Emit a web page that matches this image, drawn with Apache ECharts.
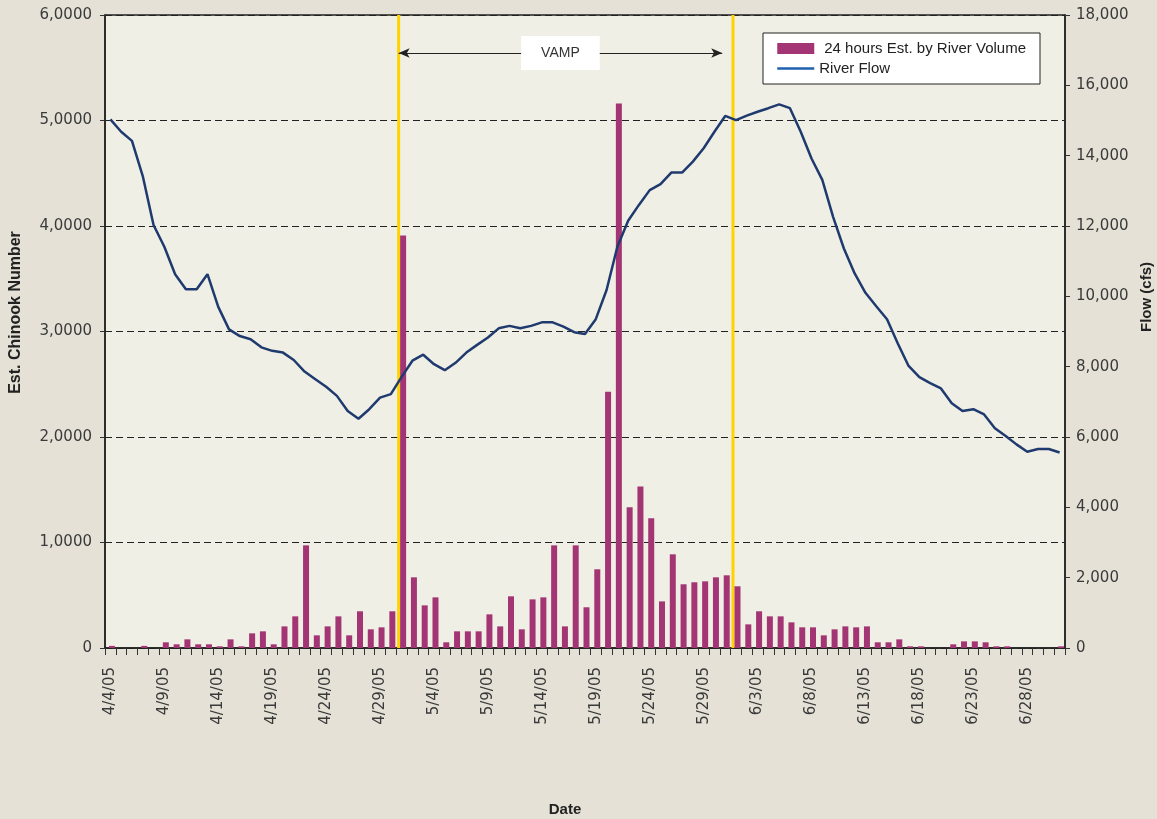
<!DOCTYPE html>
<html>
<head>
<meta charset="utf-8">
<script src="https://cdn.jsdelivr.net/npm/echarts@6/dist/echarts.min.js"></script>
<style>
html,body{margin:0;padding:0;background:#E5E1D6;}
#chart{width:1157px;height:819px;}
</style>
</head>
<body>
<div id="chart"></div>
<script>
const dates = [
 '4/4/05','4/5/05','4/6/05','4/7/05','4/8/05','4/9/05','4/10/05','4/11/05','4/12/05','4/13/05',
 '4/14/05','4/15/05','4/16/05','4/17/05','4/18/05','4/19/05','4/20/05','4/21/05','4/22/05','4/23/05',
 '4/24/05','4/25/05','4/26/05','4/27/05','4/28/05','4/29/05','4/30/05',
 '5/1/05','5/2/05','5/3/05','5/4/05','5/5/05','5/6/05','5/7/05','5/8/05','5/9/05','5/10/05',
 '5/11/05','5/12/05','5/13/05','5/14/05','5/15/05','5/16/05','5/17/05','5/18/05','5/19/05','5/20/05',
 '5/21/05','5/22/05','5/23/05','5/24/05','5/25/05','5/26/05','5/27/05','5/28/05','5/29/05','5/30/05','5/31/05',
 '6/1/05','6/2/05','6/3/05','6/4/05','6/5/05','6/6/05','6/7/05','6/8/05','6/9/05','6/10/05',
 '6/11/05','6/12/05','6/13/05','6/14/05','6/15/05','6/16/05','6/17/05','6/18/05','6/19/05','6/20/05',
 '6/21/05','6/22/05','6/23/05','6/24/05','6/25/05','6/26/05','6/27/05','6/28/05','6/29/05','6/30/05',
 '7/1/05'
];

const chinook = [
 20,0,0,20,0,54,35,82,35,35,
 16,82,16,139,158,35,205,300,973,120,
 205,300,120,348,177,196,348,
 3910,670,404,480,54,158,158,158,319,205,
 490,177,461,480,973,205,973,386,746,2430,
 5160,1334,1530,1229,442,888,604,623,632,670,689,
 585,224,348,300,300,243,196,196,120,177,
 205,196,205,54,54,82,16,16,0,0,
 35,63,63,54,16,16,0,0,0,0,
 16
];

const riverFlow = [
 15030,14680,14420,13420,12030,11410,10630,10200,10200,10630,
 9700,9060,8870,8780,8550,8450,8400,8190,7860,7640,
 7430,7170,6740,6520,6790,7120,7220,
 7710,8170,8340,8070,7900,8110,8400,8620,8830,9090,
 9160,9090,9160,9260,9260,9140,8980,8930,9350,10180,
 11410,12150,12600,13020,13190,13520,13520,13830,14210,14680,15130,
 15010,15140,15250,15350,15460,15350,14680,13920,13310,12260,
 11360,10650,10100,9720,9350,8660,8020,7700,7530,7380,
 6960,6740,6790,6640,6250,6030,5790,5580,5660,5660,
 5560
];

const vampDates = ['5/1/05','6/1/05'];
const vampArrowEnds = ['5/1/05','5/31/05'];
const vampArrowLevel = 5640;

const leftTickLabels = ['0','1,0000','2,0000','3,0000','4,0000','5,0000','6,0000'];
const rightTickLabels = ['0','2,000','4,000','6,000','8,000','10,000','12,000','14,000','16,000','18,000'];

const LEFT_MAX = 6000, RIGHT_MAX = 18000;
const vampBars = dates.map(d => vampDates.indexOf(d) >= 0 ? LEFT_MAX : null);

const FONT = 'DejaVu Sans';
const FONT2 = 'Liberation Sans, Arial, sans-serif';
const chart = echarts.init(document.getElementById('chart'), null, {renderer:'canvas'});

chart.setOption({
  animation: false,
  backgroundColor: '#E5E1D6',
  grid: {
    left: 105, right: 92, top: 15, bottom: 171,
    outerBoundsMode: 'none', containLabel: false,
    show: true, backgroundColor: '#F0EFE5', borderColor: '#222', borderWidth: 1.5
  },
  legend: {
    orient: 'vertical', left: 763, top: 33,
    backgroundColor: '#fff', borderColor: '#222', borderWidth: 1,
    padding: [8, 14, 8, 13], itemGap: 5, itemWidth: 37, itemHeight: 11,
    textStyle: {fontFamily: FONT2, fontSize: 15, color: '#222'},
    data: [
      {name: '24 hours Est. by River Volume', icon: 'rect', textStyle: {padding: [0,0,0,5]}},
      {name: 'River Flow', itemStyle: {opacity: 0}, lineStyle: {color: '#1f60ac', width: 2.5}}
    ]
  },
  xAxis: {
    type: 'category', data: dates, boundaryGap: true,
    name: 'Date', nameLocation: 'middle', nameGap: 154,
    nameTextStyle: {fontFamily: FONT2, fontSize: 15, fontWeight: 'bold', color: '#222', padding: [0, 40, 0, 0]},
    axisLine: {lineStyle: {color: '#222', width: 1.5}},
    axisTick: {show: true, interval: 0, length: 7, lineStyle: {color: '#333'}},
    axisLabel: {interval: 4, rotate: 90, margin: 19, fontFamily: FONT, fontSize: 15, color: '#3a3a3a'},
    splitLine: {show: false}
  },
  yAxis: [
    {
      type: 'value', min: 0, max: LEFT_MAX, interval: 1000,
      name: 'Est. Chinook Number', nameLocation: 'middle', nameGap: 81, nameRotate: 90,
      nameTextStyle: {fontFamily: FONT2, fontSize: 16, fontWeight: 'bold', color: '#222', padding: [0,0,0,38]},
      axisLine: {show: true, lineStyle: {color: '#222', width: 1.5}},
      axisTick: {show: true, length: 5, lineStyle: {color: '#333'}},
      axisLabel: {margin: 13, fontFamily: FONT, fontSize: 15, color: '#3a3a3a',
        formatter: v => leftTickLabels[Math.round(v / 1000)]},
      splitLine: {show: true, lineStyle: {color: '#222', type: [7, 4], width: 1}}
    },
    {
      type: 'value', min: 0, max: RIGHT_MAX, interval: 2000, position: 'right',
      name: 'Flow (cfs)', nameLocation: 'middle', nameGap: 73, nameRotate: 90,
      nameTextStyle: {fontFamily: FONT2, fontSize: 15, fontWeight: 'bold', color: '#222', padding: [0,0,0,69]},
      axisLine: {show: true, lineStyle: {color: '#222', width: 1.5}},
      axisTick: {show: true, length: 5, lineStyle: {color: '#333'}},
      axisLabel: {margin: 11, fontFamily: FONT, fontSize: 15, color: '#3a3a3a',
        formatter: v => rightTickLabels[Math.round(v / 2000)]},
      splitLine: {show: false}
    }
  ],
  series: [
    {
      name: 'VAMP', type: 'bar', yAxisIndex: 0, data: vampBars,
      barWidth: 3, barGap: '0%', itemStyle: {color: '#FFD200'}, z: 2,
      markLine: {
        silent: true, symbol: ['arrow', 'arrow'], symbolSize: [7, 11],
        lineStyle: {color: '#222', width: 1.2, type: 'solid'},
        label: {show: true, position: 'insideMiddle', formatter: 'VAMP',
          backgroundColor: '#fff', padding: [10, 20, 10, 20],
          fontFamily: FONT2, fontSize: 14, color: '#333'},
        data: [[{coord: [vampArrowEnds[0], vampArrowLevel]}, {coord: [vampArrowEnds[1], vampArrowLevel]}]]
      }
    },
    {
      name: '24 hours Est. by River Volume', type: 'bar', yAxisIndex: 0, data: chinook,
      barWidth: 6, barGap: '0%', itemStyle: {color: '#A33574'}, z: 3
    },
    {
      name: 'River Flow', type: 'line', yAxisIndex: 1, data: riverFlow,
      symbol: 'none', lineStyle: {color: '#1f3a6e', width: 2.5}, itemStyle: {color: '#1f3a6e'}, z: 4
    }
  ]
});
</script>
</body>
</html>
